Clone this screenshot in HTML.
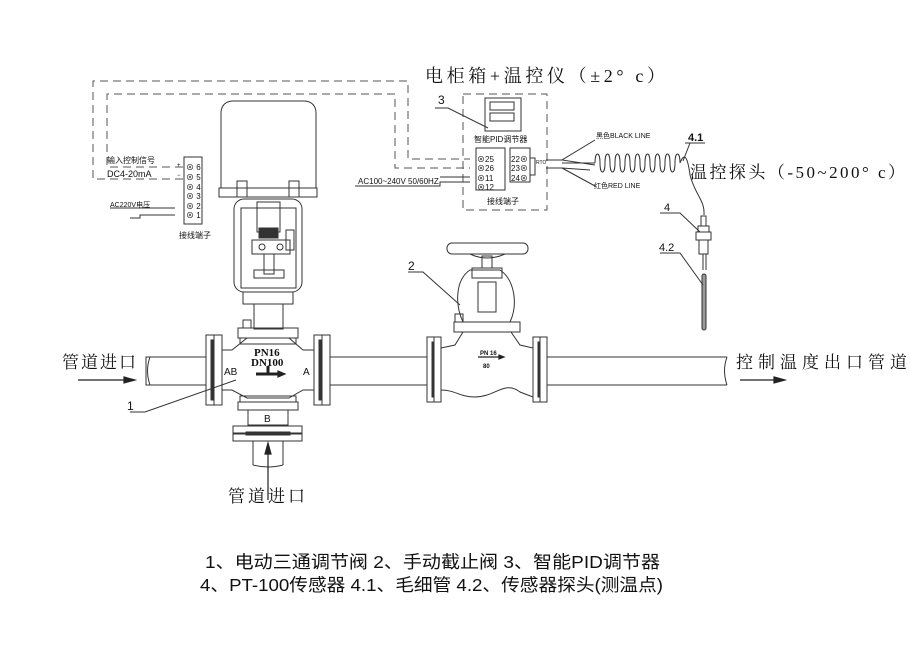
<!DOCTYPE html>
<html><head><meta charset="utf-8"><style>
html,body{margin:0;padding:0;background:#fff}
svg{display:block}
text{font-family:"Liberation Sans","Noto Sans CJK SC",sans-serif;fill:#111}
.s{font-family:"Liberation Serif","Noto Serif CJK SC",serif}
</style></head><body>
<svg width="910" height="659" viewBox="0 0 910 659" xmlns="http://www.w3.org/2000/svg">
<g fill="none" stroke="#333" stroke-width="1">
<g stroke-dasharray="8,5" stroke="#555">
<polyline points="183,179 93,179 93,81 408,81 408,159 470,159"/>
<polyline points="183,167 107,167 107,94 395,94 395,168 470,168"/>
<rect x="463" y="94" width="84" height="116"/>
</g>
<polyline points="110,208 175,208"/><polyline points="130,218 140,218 140,215 175,215"/>
<polyline points="355,186 440,186 440,182 470,182"/>
<line x1="440" y1="177" x2="470" y2="177"/>
<rect x="184" y="157" width="18" height="67"/>
<rect x="485" y="98" width="36" height="33"/>
<rect x="490" y="102" width="24" height="8"/><rect x="490" y="113" width="24" height="8"/>
<rect x="476" y="148" width="29" height="42"/>
<rect x="510" y="148" width="20" height="34"/>
<polyline points="530,158 535,158 535,175 530,175"/>
<polyline points="595,140 562,160 595,165"/>
<polyline points="595,186 562,168 590,170"/>
<polyline points="546,160 562,160"/><polyline points="546,168 562,168"/>
<path d="M562,163 L595,163"/>
<path d="M595,163 c0,-12 5,-12 5,0 c0,12 5,12 5,0 c0,-12 5,-12 5,0 c0,12 5,12 5,0 c0,-12 5,-12 5,0 c0,12 5,12 5,0 c0,-12 5,-12 5,0 c0,12 5,12 5,0 c0,-12 5,-12 5,0 c0,12 5,12 5,0 c0,-12 5,-12 5,0 c0,12 5,12 5,0 c0,-12 5,-12 5,0 c0,12 5,12 5,0 c0,-12 5,-12 5,0 c0,12 5,12 5,0 c0,-12 5,-12 5,0"/>
<path d="M680,163 C685,150 688,160 690,175 C695,195 705,200 704,215"/>
<line x1="685" y1="143" x2="705" y2="143"/>
<line x1="683" y1="161" x2="690" y2="143"/>
<rect x="701" y="216" width="5" height="10"/>
<rect x="698" y="226" width="11" height="6"/>
<rect x="696" y="232" width="15" height="8"/>
<rect x="699" y="240" width="9" height="14"/>
<line x1="703" y1="254" x2="703" y2="270"/><line x1="706" y1="254" x2="706" y2="270"/>
<rect x="702" y="274" width="4" height="56" rx="2" fill="#999"/>
<polyline points="660,213 680,213 700,232"/>
<polyline points="660,253 680,253 703,285"/>
<path d="M221,188 L221,112 Q222,102 232,101 L305,101 Q315,102 316,112 L316,188 Z"/>
<rect x="219" y="188" width="98" height="9"/>
<rect x="237" y="181" width="10" height="16"/><rect x="289" y="181" width="10" height="16"/>
<rect x="234" y="199" width="68" height="93" rx="10"/>
<rect x="241" y="208" width="55" height="80"/>
<rect x="257" y="202" width="23" height="30"/>
<rect x="259" y="228" width="19" height="10" fill="#333"/>
<rect x="252" y="240" width="38" height="14"/>
<circle cx="262" cy="247" r="3"/><circle cx="280" cy="247" r="3"/>
<rect x="286" y="230" width="8" height="20"/>
<rect x="264" y="254" width="10" height="20"/>
<rect x="254" y="270" width="30" height="8"/>
<rect x="243" y="292" width="50" height="12"/>
<rect x="254" y="304" width="29" height="25"/>
<rect x="146" y="357" width="60" height="28"/>
<rect x="206" y="335" width="8" height="70"/><rect x="214" y="335" width="8" height="70"/>
<rect x="211" y="340" width="3" height="60" fill="#333"/>
<path d="M222,350 L232,350 L247,338 L289,338 L303,350 L314,350 L314,390 L303,390 L289,398 L247,398 L232,390 L222,390 Z"/>
<rect x="238" y="328" width="60" height="10"/><rect x="240" y="338" width="56" height="6"/>
<rect x="243" y="320" width="8" height="8"/>
<rect x="314" y="335" width="8" height="70"/><rect x="322" y="335" width="8" height="70"/>
<rect x="319" y="340" width="3" height="60" fill="#333"/>
<rect x="240" y="396" width="56" height="6"/><rect x="238" y="402" width="60" height="8"/>
<rect x="248" y="410" width="40" height="15"/>
<rect x="233" y="426" width="69" height="7"/><rect x="233" y="434" width="69" height="7"/>
<rect x="246" y="432" width="44" height="3" fill="#333"/>
<path d="M253,441 L253,465 M283,441 L283,465"/>
<path d="M253,465 q15,4 30,0"/>
<rect x="330" y="357" width="97" height="28"/>
<rect x="427" y="337" width="7" height="65"/><rect x="434" y="337" width="7" height="65"/>
<rect x="432" y="342" width="2" height="55" fill="#333"/>
<rect x="533" y="337" width="7" height="65"/><rect x="540" y="337" width="7" height="65"/>
<rect x="538" y="342" width="2" height="55" fill="#333"/>
<path d="M441,348 L455,345 L463,332 L511,332 L520,345 L533,348 L533,397 L520,392 C505,380 495,397 475,397 C460,397 455,390 441,390 Z"/>
<rect x="454" y="322" width="66" height="10"/>
<rect x="455" y="314" width="8" height="8"/>
<path d="M463,322 C455,305 455,280 470,270 L500,270 C515,280 518,305 510,322"/>
<rect x="472" y="268" width="30" height="10"/>
<rect x="478" y="282" width="18" height="30"/>
<rect x="482" y="256" width="10" height="12"/>
<rect x="447" y="243" width="81" height="11" rx="5"/>
<path d="M470,254 Q487,262 505,254"/>
<path d="M547,357 L727,357 M547,385 L727,385"/>
<path d="M727,357 q-5,14 0,28"/>
<path d="M150,357 q-5,14 0,28"/>
<polyline points="130,412 145,412 236,380"/>
<polyline points="408,272 423,272 460,305"/>
<polyline points="435,108 448,108 488,128"/>
</g>
<g stroke="#222" stroke-width="1.2" fill="#222">
<line x1="78" y1="380" x2="125" y2="380"/><path d="M124,377 L135,380 L124,383 Z"/>
<line x1="268" y1="500" x2="268" y2="452"/><path d="M265,454 L268,443 L271,454 Z"/>
<line x1="740" y1="380" x2="775" y2="380"/><path d="M774,377 L785,380 L774,383 Z"/>
<path d="M256,374 L278,374 M268,366 L268,374" fill="none" stroke-width="3"/>
<path d="M278,371 L285,374 L278,377Z"/>
<path d="M478,357 L500,357" fill="none"/><path d="M499,355 L504,357 L499,359Z"/>
</g>
<g font-size="8" stroke="none">
<text x="186" y="170">⊗ 6</text><text x="186" y="180">⊗ 5</text><text x="186" y="190">⊗ 4</text>
<text x="186" y="199">⊗ 3</text><text x="186" y="209">⊗ 2</text><text x="186" y="218">⊗ 1</text>
<text x="477" y="162">⊗25</text><text x="477" y="171">⊗26</text><text x="477" y="181">⊗11</text><text x="477" y="190">⊗12</text>
<text x="511" y="162">22⊗</text><text x="511" y="171">23⊗</text><text x="511" y="181">24⊗</text>
<text x="177" y="167" font-size="6">+</text><text x="177" y="177" font-size="6">−</text>
</g>
<g font-size="8">
<text x="107" y="163">输入控制信号</text>
<text x="107" y="177" font-size="9">DC4-20mA</text>
<text x="110" y="207" font-size="7">AC220V电压</text>
<text x="179" y="238" font-size="8">接线端子</text>
<text x="358" y="184" font-size="8">AC100~240V 50/60HZ</text>
<text x="487" y="204" font-size="8">接线端子</text>
<text x="474" y="142" font-size="8">智能PID调节器</text>
<text x="596" y="138" font-size="7">黑色BLACK LINE</text>
<text x="594" y="188" font-size="7">红色RED LINE</text>
<text x="536" y="164" font-size="5">RTO</text>
<text x="438" y="104" font-size="12">3</text>
<text x="408" y="270" font-size="12">2</text>
<text x="127" y="410" font-size="12">1</text>
<text x="688" y="141" font-size="11" font-weight="bold">4.1</text>
<text x="664" y="211" font-size="11">4</text>
<text x="659" y="251" font-size="11">4.2</text>
<text x="254" y="356" font-size="11" font-weight="bold" class="s">PN16</text>
<text x="251" y="366" font-size="11" font-weight="bold" class="s">DN100</text>
<text x="224" y="375" font-size="10">AB</text>
<text x="303" y="375" font-size="10">A</text>
<text x="264" y="422" font-size="10">B</text>
<text x="480" y="355" font-size="6" font-weight="bold">PN 16</text>
<text x="483" y="368" font-size="6" font-weight="bold">80</text>
</g>
<text x="425" y="82" font-size="18" class="s" textLength="240" lengthAdjust="spacing">电柜箱+温控仪（±2° c）</text>
<text x="690" y="178" font-size="17" class="s" textLength="215" lengthAdjust="spacing">温控探头（-50~200° c）</text>
<text x="62" y="368" font-size="17" class="s" textLength="74" lengthAdjust="spacing">管道进口</text>
<text x="736" y="368" font-size="17" class="s" textLength="171" lengthAdjust="spacing">控制温度出口管道</text>
<text x="228" y="502" font-size="17" class="s" textLength="77" lengthAdjust="spacing">管道进口</text>
<text x="205" y="568" font-size="17.5" textLength="455" lengthAdjust="spacingAndGlyphs">1、电动三通调节阀 2、手动截止阀 3、智能PID调节器</text>
<text x="200" y="591" font-size="17.5" textLength="463" lengthAdjust="spacingAndGlyphs">4、PT-100传感器 4.1、毛细管 4.2、传感器探头(测温点)</text>
</svg>
</body></html>
